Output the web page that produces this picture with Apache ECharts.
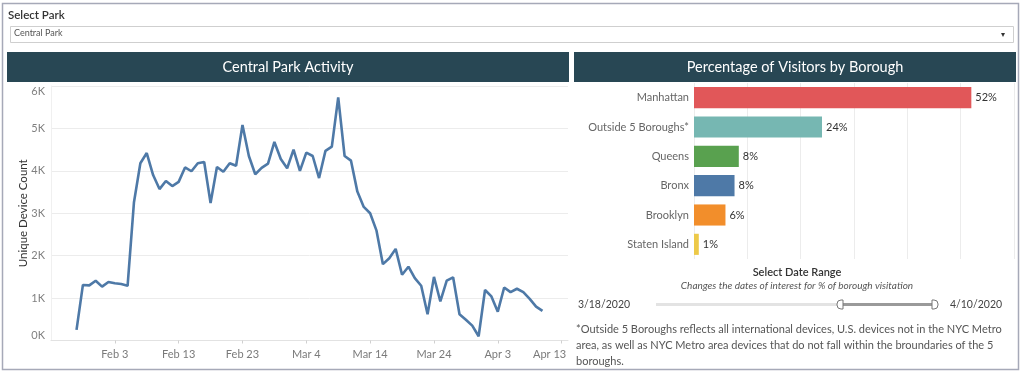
<!DOCTYPE html>
<html>
<head>
<meta charset="utf-8">
<script src="https://cdn.jsdelivr.net/npm/echarts@6/dist/echarts.min.js"></script>
<style>
  html, body { margin: 0; padding: 0; background: #fff; }
  #chart { width: 1024px; height: 376px; }
</style>
</head>
<body>
<div id="chart"></div>
<script>
// daily unique device counts, Central Park, from Jan 28 2020 to Apr 10 2020
const firstDay = [2020, 0, 28];
const deviceCounts = [
  250, 1310, 1300, 1410, 1270, 1380, 1350, 1330, 1290, 3260,
  4180, 4420, 3900, 3570, 3760, 3640, 3740, 4080, 3990, 4180,
  4210, 3240, 4090, 3980, 4180, 4120, 5080, 4350, 3920, 4070,
  4170, 4680, 4280, 4060, 4500, 4000, 4430, 4350, 3830, 4470,
  4570, 5730, 4350, 4240, 3510, 3150, 3000, 2590, 1800, 1940,
  2160, 1550, 1740, 1470, 1290, 620, 1500, 920, 1410, 1490,
  620, 490, 350, 100, 1190, 1040, 680, 1250, 1140, 1220,
  1140, 980, 800, 700
];
const tickDates = [[2020, 1, 3], [2020, 1, 13], [2020, 1, 23], [2020, 2, 4],
  [2020, 2, 14], [2020, 2, 24], [2020, 3, 3], [2020, 3, 13]];
const monthNames = ["Jan", "Feb", "Mar", "Apr"];

// borough share (%)
const boroughs = ["Manhattan", "Outside 5 Boroughs*", "Queens", "Bronx", "Brooklyn", "Staten Island"];
const boroughShare = [52, 24, 8.4, 7.6, 5.9, 0.9];
const boroughColors = ["#e15759", "#76b7b2", "#59a14f", "#4e79a7", "#f28e2b", "#edc948"];

const rangeStart = "3/18/2020";
const rangeEnd = "4/10/2020";

const FONT = "Lato";

const lineData = deviceCounts.map((v, i) => {
  const d = new Date(firstDay[0], firstDay[1], firstDay[2] + i);
  return [d.getTime(), v];
});
const ticks = tickDates.map(t => new Date(t[0], t[1], t[2]).getTime());
const lastTick = ticks[ticks.length - 1];

const chart = echarts.init(document.getElementById("chart"), null, { renderer: "canvas" });

const option = {
  animation: false,
  textStyle: { fontFamily: FONT },
  grid: [
    { left: 51, right: 456, top: 86, bottom: 35.5 },
    { left: 694, right: 10, top: 83, bottom: 117 }
  ],
  xAxis: [
    {
      type: "value",
      gridIndex: 0,
      min: new Date(2020, 0, 24).getTime(),
      max: new Date(2020, 3, 14).getTime(),
      axisLine: { lineStyle: { color: "#e2e2e2" } },
      axisTick: { show: true, customValues: ticks, length: 3, lineStyle: { color: "#d0d0d0" } },
      splitLine: { show: false },
      axisLabel: {
        customValues: ticks,
        color: "#7a7a7a",
        fontSize: 11,
        margin: 8,
        hideOverlap: false,
        formatter: v => {
          const d = new Date(v);
          const s = monthNames[d.getMonth()] + " " + d.getDate();
          return v === lastTick ? "{last|" + s + "}" : s;
        },
        rich: { last: { color: "#7a7a7a", fontSize: 11, padding: [0, 24, 0, 0] } }
      }
    },
    {
      type: "value",
      gridIndex: 1,
      min: 0,
      max: 60,
      interval: 10,
      axisLabel: { show: false },
      axisLine: { show: false },
      axisTick: { show: false },
      splitLine: { lineStyle: { color: "#ececec" } }
    }
  ],
  yAxis: [
    {
      type: "value",
      gridIndex: 0,
      min: 0,
      max: 6000,
      interval: 1000,
      name: "Unique Device Count",
      nameLocation: "middle",
      nameGap: 22,
      nameMoveOverlap: false,
      nameTextStyle: { color: "#333", fontSize: 11.5 },
      axisLine: { show: true, lineStyle: { color: "#f0f0f0" } },
      axisTick: { show: false },
      splitLine: { lineStyle: { color: "#ececec" } },
      axisLabel: {
        color: "#808080",
        fontSize: 11,
        margin: 6,
        verticalAlignMaxLabel: "top",
        verticalAlignMinLabel: "bottom",
        formatter: v => (v / 1000) + "K"
      }
    },
    {
      type: "category",
      gridIndex: 1,
      inverse: true,
      data: boroughs,
      axisLine: { show: false },
      axisTick: { show: false },
      axisLabel: { color: "#666", fontSize: 11, margin: 5 }
    }
  ],
  series: [
    {
      type: "line",
      xAxisIndex: 0,
      yAxisIndex: 0,
      data: lineData,
      showSymbol: false,
      lineStyle: { color: "#4e79a7", width: 2.6 },
      itemStyle: { color: "#4e79a7" }
    },
    {
      type: "bar",
      xAxisIndex: 1,
      yAxisIndex: 1,
      barCategoryGap: "28%",
      data: boroughShare.map((v, i) => ({ value: v, itemStyle: { color: boroughColors[i] } })),
      label: {
        show: true,
        position: "right",
        distance: 4,
        color: "#333",
        fontSize: 11,
        formatter: p => Math.round(p.value) + "%"
      }
    }
  ],
  graphic: [
    { type: "rect", shape: { x: 2.5, y: 3.5, width: 1016, height: 366 },
      style: { fill: "none", stroke: "#a6a9b8", lineWidth: 1.5 }, silent: true },
    { type: "text", left: 8, top: 9, style: { text: "Select Park", fill: "#333", font: "600 11.5px " + FONT } },
    { type: "rect", shape: { x: 10.5, y: 26.5, width: 1003, height: 16 },
      style: { fill: "#fff", stroke: "#cfcfcf", lineWidth: 1 } },
    { type: "text", left: 14, top: 29, style: { text: "Central Park", fill: "#555", font: "9px " + FONT } },
    { type: "text", left: 1001, top: 30, style: { text: "▾", fill: "#333", font: "8px " + FONT } },

    { type: "rect", shape: { x: 7, y: 52, width: 562, height: 30 }, style: { fill: "#284754" } },
    { type: "text", x: 288, y: 67, style: { text: "Central Park Activity", fill: "#fff",
      font: "14.5px " + FONT, align: "center", verticalAlign: "middle" } },
    { type: "rect", shape: { x: 574, y: 52, width: 442, height: 30 }, style: { fill: "#284754" } },
    { type: "text", x: 795, y: 67, style: { text: "Percentage of Visitors by Borough", fill: "#fff",
      font: "14.5px " + FONT, align: "center", verticalAlign: "middle" } },

    { type: "text", x: 797, y: 272, style: { text: "Select Date Range", fill: "#333",
      font: "600 11px " + FONT, align: "center", verticalAlign: "middle" } },
    { type: "text", x: 797, y: 286, style: { text: "Changes the dates of interest for % of borough visitation",
      fill: "#555", font: "italic 10px " + FONT, align: "center", verticalAlign: "middle" } },
    { type: "text", x: 604, y: 305, style: { text: rangeStart, fill: "#444",
      font: "10.5px " + FONT, align: "center", verticalAlign: "middle" } },
    { type: "text", x: 976, y: 305, style: { text: rangeEnd, fill: "#444",
      font: "10.5px " + FONT, align: "center", verticalAlign: "middle" } },
    { type: "line", shape: { x1: 656, y1: 304.5, x2: 840, y2: 304.5 },
      style: { stroke: "#e3e3e3", lineWidth: 3 } },
    { type: "line", shape: { x1: 840, y1: 304.5, x2: 934, y2: 304.5 },
      style: { stroke: "#9a9a9a", lineWidth: 3 } },
    { type: "rect", shape: { x: 837, y: 300, width: 6, height: 9, r: [4, 0, 0, 4] },
      style: { fill: "#fff", stroke: "#777", lineWidth: 1 } },
    { type: "rect", shape: { x: 932, y: 300, width: 6, height: 9, r: [0, 4, 4, 0] },
      style: { fill: "#fff", stroke: "#777", lineWidth: 1 } },

    { type: "text", left: 576, top: 321, style: {
      text: "*Outside 5 Boroughs reflects all international devices, U.S. devices not in the NYC Metro\n" +
            "area, as well as NYC Metro area devices that do not fall within the broundaries of the 5\n" +
            "boroughs.",
      fill: "#555", font: "11px " + FONT, lineHeight: 16 } }
  ]
};

chart.setOption(option);
</script>
</body>
</html>
